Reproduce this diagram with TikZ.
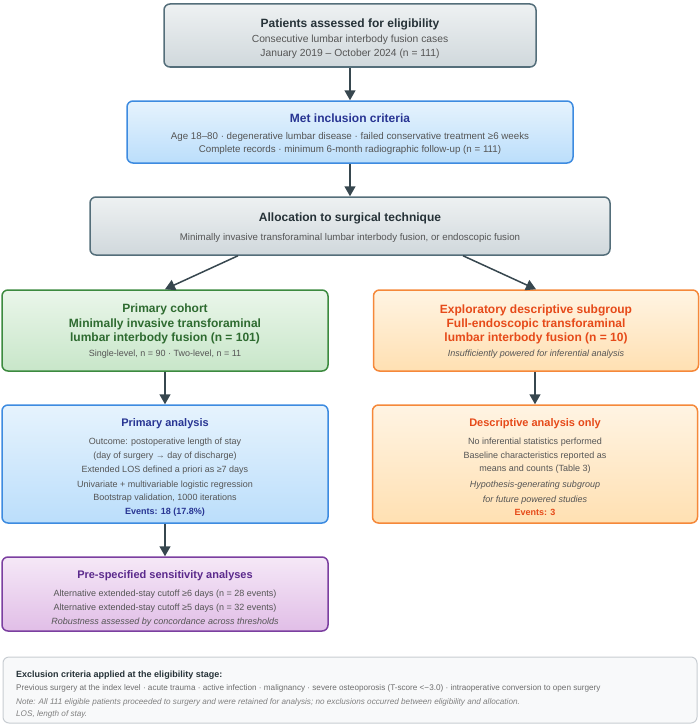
\documentclass[tikz,border=0pt]{standalone}
\usepackage{fontspec}
\setmainfont{Liberation Sans}
\usetikzlibrary{arrows.meta}
\definecolor{grayT}{HTML}{EEF1F2}\definecolor{grayB}{HTML}{D0D8DC}\definecolor{grayD}{HTML}{546E7A}\definecolor{grayTx}{HTML}{263238}
\definecolor{blueT}{HTML}{E6F3FD}\definecolor{blueB}{HTML}{BBDEFB}\definecolor{blueD}{HTML}{3D8BE0}\definecolor{blueTx}{HTML}{283593}
\definecolor{grnT}{HTML}{EAF6EA}\definecolor{grnB}{HTML}{C8E6C9}\definecolor{grnD}{HTML}{3C8A3F}\definecolor{grnTx}{HTML}{2E6B30}
\definecolor{orgT}{HTML}{FFF4E3}\definecolor{orgB}{HTML}{FFE0B2}\definecolor{orgD}{HTML}{F5883A}\definecolor{orgTx}{HTML}{E64A19}
\definecolor{purT}{HTML}{F5E8F7}\definecolor{purB}{HTML}{E1BEE7}\definecolor{purD}{HTML}{7B3FA0}\definecolor{purTx}{HTML}{5B2A8C}
\definecolor{footF}{HTML}{F8F9FA}\definecolor{footD}{HTML}{C8CDD2}
\definecolor{bodyTx}{HTML}{555555}\definecolor{arrowC}{HTML}{37474F}
\tikzset{
  boxbase/.style={rounded corners=6pt, line width=1.5pt, inner sep=0pt},
  graybox/.style={boxbase, draw=grayD, top color=grayT, bottom color=grayB},
  bluebox/.style={boxbase, draw=blueD, top color=blueT, bottom color=blueB},
  grnbox/.style={boxbase, draw=grnD, top color=grnT, bottom color=grnB},
  orgbox/.style={boxbase, draw=orgD, top color=orgT, bottom color=orgB},
  purbox/.style={boxbase, draw=purD, top color=purT, bottom color=purB},
  footbox/.style={rounded corners=6pt, line width=1pt, draw=footD, fill=footF, inner sep=0pt},
  txt/.style={anchor=base, inner sep=0pt, text=bodyTx},
  ttlA/.style={txt, font=\bfseries\fontsize{12pt}{14pt}\selectfont},
  ttlB/.style={txt, font=\bfseries\fontsize{11pt}{13pt}\selectfont},
  arr/.style={draw=arrowC, line width=1.5pt, -{Triangle[length=10pt,width=11pt]}}
}
\begin{document}
\begin{tikzpicture}[x=1pt,y=-1pt]
\useasboundingbox (0,0) rectangle (700,725);
% boxes
\node[graybox, minimum width=372pt, minimum height=63pt] (b1) at (350,35.5) {};
\node[bluebox, minimum width=446pt, minimum height=62pt] (b2) at (350,132) {};
\node[graybox, minimum width=520pt, minimum height=58pt] (b3) at (350,226) {};
\node[grnbox, minimum width=326pt, minimum height=81pt] (b4) at (165,330.5) {};
\node[orgbox, minimum width=325pt, minimum height=81pt] (b5) at (536,330.5) {};
\node[bluebox, minimum width=326pt, minimum height=118pt] (b6) at (165,464) {};
\node[orgbox, minimum width=325pt, minimum height=118pt] (b7) at (535,464) {};
\node[purbox, minimum width=326pt, minimum height=74pt] (b8) at (165,594) {};
\node[footbox, minimum width=694pt, minimum height=66pt] (bf) at (350,690) {};
% box 1
\node[ttlA, text=grayTx] (t1a) at (350,27.3) {Patients assessed for eligibility};
\node[txt, font=\fontsize{10.3pt}{12pt}\selectfont] (t1b) at (350,42.7) {Consecutive lumbar interbody fusion cases};
\node[txt, font=\fontsize{10.3pt}{12pt}\selectfont] (t1c) at (350,56.7) {January 2019 – October 2024 (n = 111)};
% box 2
\node[ttlA, text=blueTx] (t2a) at (350,122.3) {Met inclusion criteria};
\node[txt, font=\fontsize{9.75pt}{11pt}\selectfont] (t2b) at (350,139.5) {Age 18–80 · degenerative lumbar disease · failed conservative treatment ≥6 weeks};
\node[txt, font=\fontsize{9.75pt}{11pt}\selectfont] (t2c) at (350,152.5) {Complete records · minimum 6-month radiographic follow-up (n = 111)};
% box 3
\node[ttlA, text=grayTx] (t3a) at (350,221.3) {Allocation to surgical technique};
\node[txt, font=\fontsize{9.7pt}{11pt}\selectfont] (t3b) at (350,240) {Minimally invasive transforaminal lumbar interbody fusion, or endoscopic fusion};
% box 4
\node[ttlA, text=grnTx] (t4a) at (165,312.3) {Primary cohort};
\node[ttlA, text=grnTx] (t4b) at (165,327.3) {Minimally invasive transforaminal};
\node[ttlA, text=grnTx] (t4c) at (165,341.3) {lumbar interbody fusion (n = 101)};
\node[txt, font=\fontsize{9pt}{11pt}\selectfont] (t4d) at (165,356.2) {Single-level, n = 90 · Two-level, n = 11};
% box 5
\node[ttlA, text=orgTx] (t5a) at (536,313.3) {Exploratory descriptive subgroup};
\node[ttlA, text=orgTx] (t5b) at (536,327.3) {Full-endoscopic transforaminal};
\node[ttlA, text=orgTx] (t5c) at (536,341.3) {lumbar interbody fusion (n = 10)};
\node[txt, font=\itshape\fontsize{9pt}{11pt}\selectfont] (t5d) at (536,356.2) {Insufficiently powered for inferential analysis};
% box 6
\node[ttlB, text=blueTx] (t6a) at (165,426) {Primary analysis};
\node[txt, font=\fontsize{9pt}{11pt}\selectfont] (t6b) at (165,444.2) {Outcome: postoperative length of stay};
\node[txt, font=\fontsize{9pt}{11pt}\selectfont] (t6c) at (165,458.2) {(day of surgery → day of discharge)};
\node[txt, font=\fontsize{9pt}{11pt}\selectfont] (t6d) at (165,472.2) {Extended LOS defined a priori as ≥7 days};
\node[txt, font=\fontsize{9pt}{11pt}\selectfont] (t6e) at (165,487.2) {Univariate + multivariable logistic regression};
\node[txt, font=\fontsize{9pt}{11pt}\selectfont] (t6f) at (165,500.2) {Bootstrap validation, 1000 iterations};
\node[txt, font=\bfseries\fontsize{9pt}{11pt}\selectfont, text=blueTx] (t6g) at (165,514.2) {Events: 18 (17.8\%)};
% box 7
\node[ttlB, text=orgTx] (t7a) at (535,426) {Descriptive analysis only};
\node[txt, font=\fontsize{9pt}{11pt}\selectfont] (t7b) at (535,444.2) {No inferential statistics performed};
\node[txt, font=\fontsize{9pt}{11pt}\selectfont] (t7c) at (535,458.2) {Baseline characteristics reported as};
\node[txt, font=\fontsize{9pt}{11pt}\selectfont] (t7d) at (535,471.2) {means and counts (Table 3)};
\node[txt, font=\itshape\fontsize{9pt}{11pt}\selectfont] (t7e) at (535,487.2) {Hypothesis-generating subgroup};
\node[txt, font=\itshape\fontsize{9pt}{11pt}\selectfont] (t7f) at (535,502.2) {for future powered studies};
\node[txt, font=\bfseries\fontsize{9pt}{11pt}\selectfont, text=orgTx] (t7g) at (535,515.2) {Events: 3};
% box 8
\node[ttlB, text=purTx] (t8a) at (165,578) {Pre-specified sensitivity analyses};
\node[txt, font=\fontsize{9pt}{11pt}\selectfont] (t8b) at (165,596.2) {Alternative extended-stay cutoff ≥6 days (n = 28 events)};
\node[txt, font=\fontsize{9pt}{11pt}\selectfont] (t8c) at (165,610.2) {Alternative extended-stay cutoff ≥5 days (n = 32 events)};
\node[txt, font=\itshape\fontsize{9pt}{11pt}\selectfont] (t8d) at (165,624.2) {Robustness assessed by concordance across thresholds};
% footer
\node[txt, anchor=base west, text=grayTx, font=\bfseries\fontsize{9pt}{11pt}\selectfont] (f1) at (16,677.2) {Exclusion criteria applied at the eligibility stage:};
\node[txt, anchor=base west, text=bodyTx!85, font=\fontsize{8.15pt}{10pt}\selectfont] (f2) at (16,690) {Previous surgery at the index level · acute trauma · active infection · malignancy · severe osteoporosis (T-score <−3.0) · intraoperative conversion to open surgery};
\node[txt, anchor=base west, text=bodyTx!75, font=\itshape\fontsize{8.15pt}{10pt}\selectfont] (f3) at (16,704) {Note: All 111 eligible patients proceeded to surgery and were retained for analysis; no exclusions occurred between eligibility and allocation.};
\node[txt, anchor=base west, text=bodyTx!75, font=\itshape\fontsize{8.15pt}{10pt}\selectfont] (f4) at (16,716) {LOS, length of stay.};
% arrows
\draw[arr] (b1.south) -- (b2.north);
\draw[arr] (b2.south) -- (b3.north);
\draw[arr] ([xshift=-112pt]b3.south) -- (b4.north);
\draw[arr] ([xshift=113pt]b3.south) -- (b5.north);
\draw[arr] (b4.south) -- (b6.north);
\draw[arr] (b5.south -| b7.north) -- (b7.north);
\draw[arr] (b6.south) -- (b8.north);
\end{tikzpicture}
\end{document}
